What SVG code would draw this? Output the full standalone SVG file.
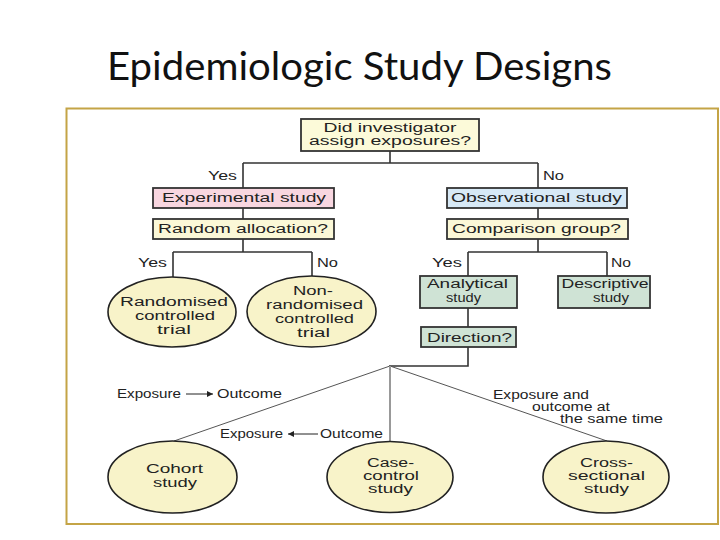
<svg xmlns="http://www.w3.org/2000/svg" width="720" height="540" viewBox="0 0 720 540">
<defs>
<style>
.t{font-family:"Liberation Sans",Arial,sans-serif;font-size:12px;fill:#222;}
.m{text-anchor:middle;}
.box{stroke:#333;stroke-width:1.8;}
.ell{fill:#F8F3C9;stroke:#222;stroke-width:1.6;}
.ln{fill:none;stroke:#333;stroke-width:1.6;}
.fan{fill:none;stroke:#555;stroke-width:1;}
</style>
<marker id="ah" viewBox="0 0 10 10" refX="10" refY="5" markerWidth="6" markerHeight="6" orient="auto" markerUnits="userSpaceOnUse">
<path d="M0,0 L10,5 L0,10 z" fill="#222"/>
</marker>
</defs>
<rect width="720" height="540" fill="#fff"/>
<text x="107" y="80" textLength="505" lengthAdjust="spacingAndGlyphs" style="font-family:Lato,'Open Sans',sans-serif;font-size:38px;fill:#111">Epidemiologic Study Designs</text>
<rect x="66.5" y="108.5" width="651.5" height="415.5" fill="#fff" stroke="#C4A446" stroke-width="2"/>

<g id="connectors">
<path class="ln" d="M390,151 V163 M243,163 H538 M243,163 V188 M538,163 V188 M243,208 V219 M538,208 V219 M243,239 V252 M173,252 H312 M173,252 V277 M312,252 V276 M538,239 V252 M468,252 H607 M468,252 V276 M607,252 V276 M468,308 V327 M468,347 V366 H389"/>
<path class="fan" d="M390,366 L174,441 M390,366 L607,441"/>
<path d="M390,366 V441" fill="none" stroke="#999" stroke-width="2"/>
<line x1="186" y1="394" x2="213" y2="394" stroke="#222" stroke-width="1" marker-end="url(#ah)"/>
<line x1="318" y1="434" x2="288" y2="434" stroke="#222" stroke-width="1" marker-end="url(#ah)"/>
<text class="t" x="208" y="180" textLength="29" lengthAdjust="spacingAndGlyphs">Yes</text>
<text class="t" x="543" y="180" textLength="21" lengthAdjust="spacingAndGlyphs">No</text>
<text class="t" x="138" y="267" textLength="29" lengthAdjust="spacingAndGlyphs">Yes</text>
<text class="t" x="317" y="267" textLength="21" lengthAdjust="spacingAndGlyphs">No</text>
<text class="t" x="432" y="267" textLength="30" lengthAdjust="spacingAndGlyphs">Yes</text>
<text class="t" x="611" y="267" textLength="20" lengthAdjust="spacingAndGlyphs">No</text>
<text class="t" x="117" y="398" textLength="64" lengthAdjust="spacingAndGlyphs">Exposure</text>
<text class="t" x="217" y="398" textLength="65" lengthAdjust="spacingAndGlyphs">Outcome</text>
<text class="t" x="220" y="438" textLength="63" lengthAdjust="spacingAndGlyphs">Exposure</text>
<text class="t" x="320" y="438" textLength="63" lengthAdjust="spacingAndGlyphs">Outcome</text>
<text class="t" x="493" y="399" textLength="96" lengthAdjust="spacingAndGlyphs">Exposure and</text>
<text class="t" x="532" y="411" textLength="78" lengthAdjust="spacingAndGlyphs">outcome at</text>
<text class="t" x="560" y="423" textLength="103" lengthAdjust="spacingAndGlyphs">the same time</text>
</g>

<g id="n-assign">
<rect class="box" x="301" y="119" width="178" height="32" fill="#FCFAD9"/>
<text class="t m" x="390" y="132" textLength="133" lengthAdjust="spacingAndGlyphs">Did investigator</text>
<text class="t m" x="390" y="145" textLength="162" lengthAdjust="spacingAndGlyphs">assign exposures?</text>
</g>
<g id="n-experimental">
<rect class="box" x="153" y="188" width="181" height="20" fill="#F8D6E0"/>
<text class="t m" x="244" y="202" textLength="164" lengthAdjust="spacingAndGlyphs">Experimental study</text>
</g>
<g id="n-random">
<rect class="box" x="153" y="219" width="181" height="20" fill="#FBF8D7"/>
<text class="t m" x="243" y="233" textLength="170" lengthAdjust="spacingAndGlyphs">Random allocation?</text>
</g>
<g id="n-observational">
<rect class="box" x="447" y="188" width="180" height="20" fill="#D7E9F6"/>
<text class="t m" x="536.5" y="202" textLength="171" lengthAdjust="spacingAndGlyphs">Observational study</text>
</g>
<g id="n-comparison">
<rect class="box" x="447" y="219" width="181" height="20" fill="#FBF8D7"/>
<text class="t m" x="536.5" y="233" textLength="169" lengthAdjust="spacingAndGlyphs">Comparison group?</text>
</g>
<g id="n-rct">
<ellipse class="ell" cx="172" cy="312" rx="64" ry="35"/>
<text class="t m" x="174" y="306" textLength="108" lengthAdjust="spacingAndGlyphs">Randomised</text>
<text class="t m" x="175" y="320" textLength="80" lengthAdjust="spacingAndGlyphs">controlled</text>
<text class="t m" x="174" y="334" textLength="34" lengthAdjust="spacingAndGlyphs">trial</text>
</g>
<g id="n-nonrct">
<ellipse class="ell" cx="311.5" cy="311.5" rx="64.5" ry="35.5"/>
<text class="t m" x="313" y="295" textLength="40" lengthAdjust="spacingAndGlyphs">Non-</text>
<text class="t m" x="314.5" y="309" textLength="97" lengthAdjust="spacingAndGlyphs">randomised</text>
<text class="t m" x="314.5" y="323" textLength="79" lengthAdjust="spacingAndGlyphs">controlled</text>
<text class="t m" x="313.5" y="337" textLength="33" lengthAdjust="spacingAndGlyphs">trial</text>
</g>
<g id="n-analytical">
<rect class="box" x="420" y="276" width="97" height="32" fill="#CFE3D5"/>
<text class="t m" x="467.5" y="288" textLength="81" lengthAdjust="spacingAndGlyphs">Analytical</text>
<text class="t m" x="463.5" y="302" textLength="35" lengthAdjust="spacingAndGlyphs">study</text>
</g>
<g id="n-descriptive">
<rect class="box" x="558" y="276" width="92" height="32" fill="#CFE3D5"/>
<text class="t m" x="605" y="288" textLength="87" lengthAdjust="spacingAndGlyphs">Descriptive</text>
<text class="t m" x="611" y="302" textLength="36" lengthAdjust="spacingAndGlyphs">study</text>
</g>
<g id="n-direction">
<rect class="box" x="421" y="327" width="95" height="20" fill="#CFE3D5"/>
<text class="t m" x="469.5" y="342" textLength="85" lengthAdjust="spacingAndGlyphs">Direction?</text>
</g>
<g id="n-cohort">
<ellipse class="ell" cx="172.5" cy="477" rx="64.5" ry="36"/>
<text class="t m" x="174.5" y="473" textLength="57" lengthAdjust="spacingAndGlyphs">Cohort</text>
<text class="t m" x="175" y="487" textLength="44" lengthAdjust="spacingAndGlyphs">study</text>
</g>
<g id="n-casecontrol">
<ellipse class="ell" cx="390" cy="477" rx="63" ry="35.5"/>
<text class="t m" x="390.5" y="467" textLength="47" lengthAdjust="spacingAndGlyphs">Case-</text>
<text class="t m" x="391" y="480" textLength="56" lengthAdjust="spacingAndGlyphs">control</text>
<text class="t m" x="390.5" y="493" textLength="45" lengthAdjust="spacingAndGlyphs">study</text>
</g>
<g id="n-crosssectional">
<ellipse class="ell" cx="606" cy="477" rx="63" ry="36"/>
<text class="t m" x="606.5" y="467" textLength="53" lengthAdjust="spacingAndGlyphs">Cross-</text>
<text class="t m" x="606.5" y="480" textLength="77" lengthAdjust="spacingAndGlyphs">sectional</text>
<text class="t m" x="606.5" y="493" textLength="45" lengthAdjust="spacingAndGlyphs">study</text>
</g>
</svg>
